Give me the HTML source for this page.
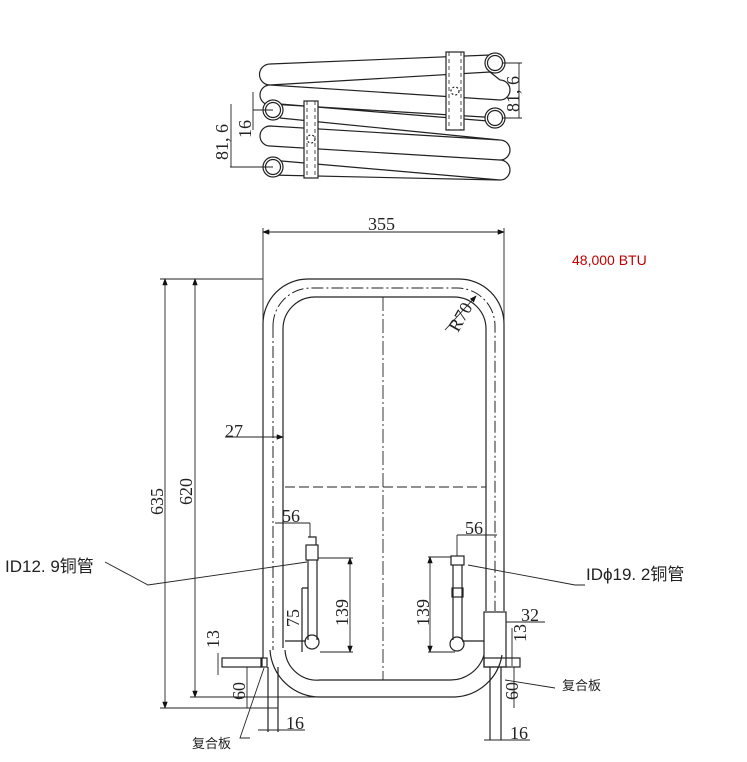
<!DOCTYPE html>
<html><head><meta charset="utf-8"><style>
html,body{margin:0;padding:0;background:#fff;}
svg{display:block;}
text{font-family:"Liberation Serif","Noto Serif CJK SC",serif;fill:#222;}
.cn{font-family:"Liberation Sans","Noto Sans CJK SC",sans-serif;}
</style></head><body>
<svg width="747" height="762" viewBox="0 0 747 762" xmlns="http://www.w3.org/2000/svg">
<defs><marker id="a" markerWidth="8" markerHeight="6" refX="7" refY="3" orient="auto-start-reverse"><path d="M0,0 L8,3 L0,6 z" fill="#111"/></marker></defs>
<g fill="none" stroke="#222" stroke-width="1.2">
<!-- TOP VIEW coils -->
<path d="M270,64 L490,55 M270,64 A10.5,10.5 0 0 0 270,85 M270,85 L500,100 M500,80 A10,10 0 0 1 500,100 M490,72 L500,80 M270,85 L490,72"/>
<path d="M270,85 A10,10 0 0 0 270,105 M280,104 L500,122 M270,104 L500,118"/>
<path d="M270,126 L500,140 M270,126 A10,10 0 0 0 270,146 M270,146 L500,160 M500,140 A10,10 0 0 1 500,160 M280,118 L500,140"/>
<path d="M270,175 L500,180 M270,160 L500,180 M500,160 A10,10 0 0 1 500,180"/>
<circle cx="495" cy="63" r="10" fill="#fff"/><circle cx="495" cy="63" r="7.5"/>
<circle cx="495" cy="118" r="10" fill="#fff"/><circle cx="495" cy="118" r="7.5"/>
<circle cx="273" cy="110" r="10" fill="#fff"/><circle cx="273" cy="110" r="7.5"/>
<circle cx="273" cy="167" r="10" fill="#fff"/><circle cx="273" cy="167" r="7.5"/>
<rect x="446" y="52" width="18" height="78" fill="#fff"/>
<rect x="304" y="101" width="14" height="77" fill="#fff"/>
<path d="M449,52V130 M461,52V130 M307,101V178 M315,101V178" stroke-dasharray="4,3" stroke-width="0.8"/>
<circle cx="455" cy="91" r="4" stroke-dasharray="2,2"/><circle cx="311" cy="139" r="4" stroke-dasharray="2,2"/>
<!-- top dims -->
<path d="M503,63H522 M503,118H522 M519,63V118 M253,110H273 M230,167H273 M253,92V130 M231,104V167" stroke-width="0.9"/>
<!-- MAIN FRAME -->
<path d="M263,324 A45,45 0 0 1 308,279 H459 A45,45 0 0 1 504,324 V611 M263,324 V612"/>
<path d="M273,326 A38,38 0 0 1 311,288 H457 A38,38 0 0 1 495,326 V611 M273,326V650" stroke-dasharray="12,3,2,3" stroke-width="1"/>
<path d="M283,329 A32,32 0 0 1 315,297 H454 A32,32 0 0 1 486,329 V611 M283,329 V648"/>
<path d="M270,650 A50,50 0 0 0 320,697 H455 A50,50 0 0 0 502,655"/>
<path d="M285,650 A32,32 0 0 0 320,680 H450 A35,35 0 0 0 484,655"/>
<path d="M383,297V680" stroke-dasharray="14,3,2,3" stroke-width="0.9"/>
<path d="M285,487H486" stroke-dasharray="10,4" stroke-width="0.9"/>
<!-- left pipe -->
<path d="M308,560V640 M317,560V640 M285,641H306"/><circle cx="312" cy="642" r="7"/>
<rect x="306" y="545" width="12" height="15"/><path d="M308,537H316V545" />
<path d="M302,588H308 M302,588V652"/>
<!-- right pipe -->
<path d="M453,565V640 M462,565V640 M462,641H484"/><circle cx="457" cy="644" r="7"/>
<rect x="451" y="556" width="13" height="9"/><rect x="452" y="588" width="11" height="9"/>
<rect x="484" y="612" width="22" height="55"/>
<rect x="484" y="658" width="36" height="9"/>
<path d="M490,667V740 M501,667V740"/>
<path d="M263,612V658"/>
<rect x="222" y="658" width="40" height="9"/><rect x="261" y="658" width="6" height="9"/>
<path d="M268,667V732 M278,667V732"/>
</g>
<g fill="none" stroke="#222" stroke-width="0.9">
<path d="M263,228V330 M504,228V350"/>
<path d="M263,232H504" marker-start="url(#a)" marker-end="url(#a)"/>
<path d="M160,279H263"/>
<path d="M165,279V708" marker-start="url(#a)" marker-end="url(#a)"/>
<path d="M195,279V697" marker-start="url(#a)" marker-end="url(#a)"/>
<path d="M160,708H278 M190,697H320"/>
<path d="M225,437H263 M263,437H283" marker-end="url(#a)"/>
<path d="M445,330L476,296" marker-end="url(#a)"/>
<path d="M275,523H310 M310,523V537"/>
<path d="M318,558H353 M320,652H353"/>
<path d="M350,558V652" marker-start="url(#a)" marker-end="url(#a)"/>
<path d="M457,535H497 M457,535V556"/>
<path d="M428,557H451 M428,652H455"/>
<path d="M430,557V652" marker-start="url(#a)" marker-end="url(#a)"/>
<path d="M506,622H545 M512,628V666"/>
<path d="M218,653V675"/>
<path d="M247,667V708 M514,667V708"/>
<path d="M258,730H305 M484,740H530"/>
<path d="M105,562L148,585L307,562" />
<path d="M468,565L575,585H585"/>
<path d="M505,680L555,688"/>
<path d="M264,668L240,738H250"/>
</g>
<g font-size="18">
<text x="368" y="230">355</text>
<text x="225" y="437">27</text>
<text x="282" y="522">56</text>
<text x="465" y="534">56</text>
<text x="521" y="621">32</text>
<text x="510" y="739">16</text>
<text x="286" y="729">16</text>
<text transform="translate(163,515) rotate(-90)">635</text>
<text transform="translate(192,505) rotate(-90)">620</text>
<text transform="translate(458,333) rotate(-60)">R70</text>
<text transform="translate(299,627) rotate(-90)">75</text>
<text transform="translate(348,626) rotate(-90)">139</text>
<text transform="translate(429,626) rotate(-90)">139</text>
<text transform="translate(219,648) rotate(-90)">13</text>
<text transform="translate(526,642) rotate(-90)">13</text>
<text transform="translate(245,700) rotate(-90)">60</text>
<text transform="translate(518,700) rotate(-90)">60</text>
<text transform="translate(251,138) rotate(-90)">16</text>
<text transform="translate(228,160) rotate(-90)">81, 6</text>
<text transform="translate(519,112) rotate(-90)">81, 6</text>
</g>
<text class="cn" x="5" y="572" font-size="17">ID12. 9铜管</text>
<text class="cn" x="586" y="580" font-size="17">IDϕ19. 2铜管</text>
<text class="cn" x="192" y="748" font-size="13">复合板</text>
<text class="cn" x="562" y="690" font-size="13">复合板</text>
<text class="cn" x="572" y="265" font-size="14" style="fill:#c00000">48,000 BTU</text>
</svg>
</body></html>
